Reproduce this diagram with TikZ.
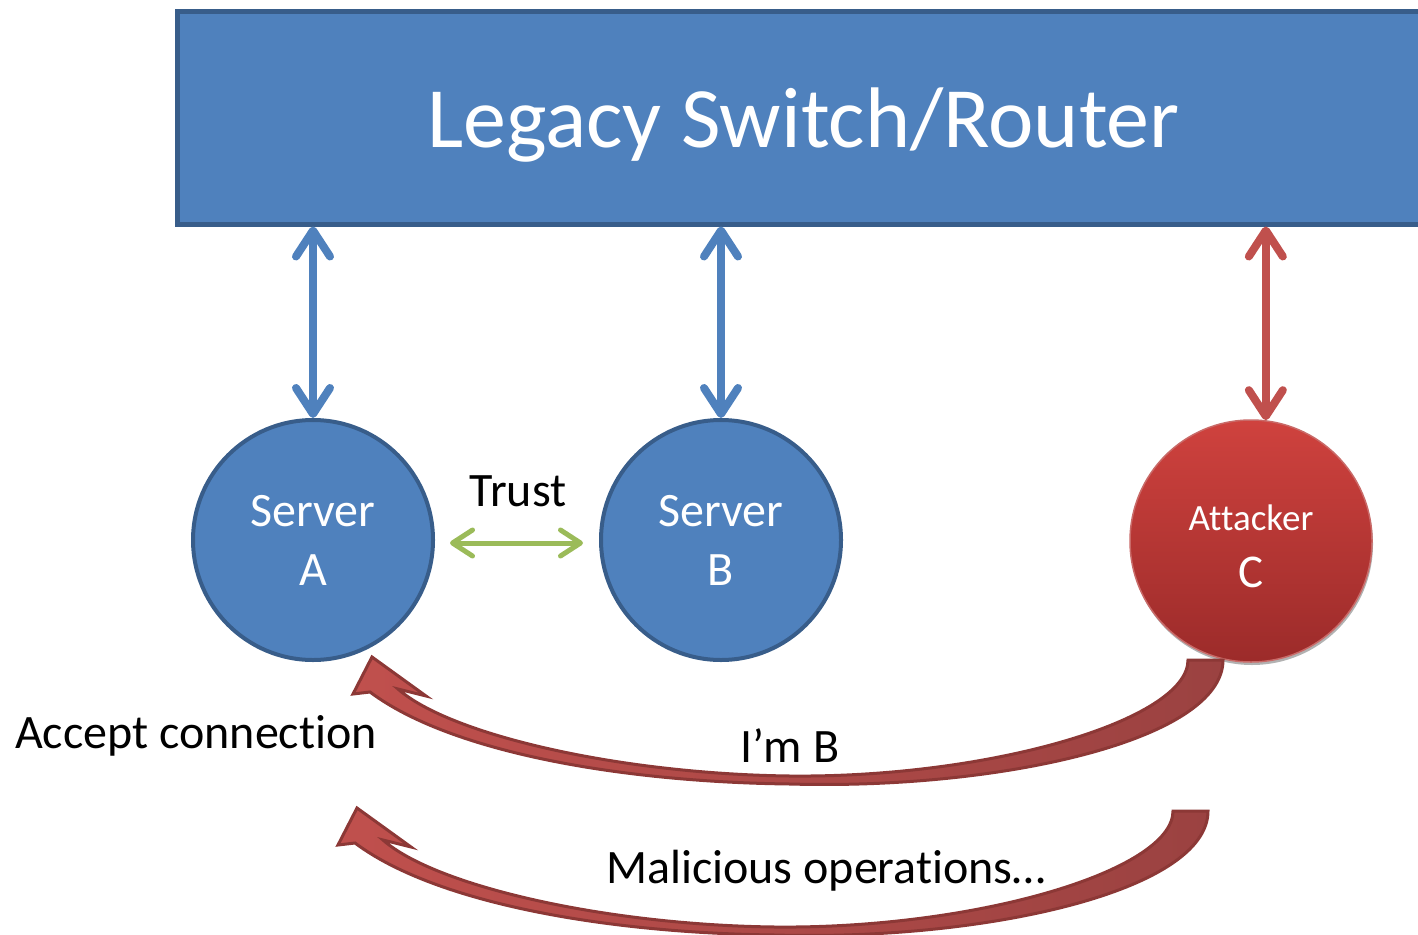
\documentclass[tikz,border=0pt]{standalone}
\usepackage{fontspec}
\setmainfont{Carlito}[Ligatures=NoCommon]
\usetikzlibrary{arrows.meta,calc}

\definecolor{boxblue}{HTML}{4F81BD}
\definecolor{boxedge}{HTML}{385D8A}
\definecolor{attred}{HTML}{C0504D}
\definecolor{attdark}{HTML}{8C3836}
\definecolor{bandtail}{HTML}{9B4241}
\definecolor{trustgreen}{HTML}{9BBB59}
\definecolor{redtop}{HTML}{CF423E}
\definecolor{redbot}{HTML}{9C2B2A}

\tikzset{
  router/.style={rectangle, minimum width=1253pt, minimum height=212pt,
    inner sep=0pt, text depth=0pt, fill=boxblue, draw=boxedge, line width=5pt,
    text=white, font=\fontsize{86}{100}\selectfont},
  hostnode/.style={circle, minimum size=240pt, inner sep=0pt, fill=boxblue,
    draw=boxedge, line width=4pt, text=white, align=center,
    font=\fontsize{48}{59}\selectfont},
  attnode/.style={circle, minimum size=242pt, inner sep=0pt,
    top color=redtop, bottom color=redbot, draw=attred!85!white,
    line width=1.5pt, text=white, align=center,
    font=\fontsize{47}{57}\selectfont},
  barb/.tip={Straight Barb[length=26pt,width=34pt,round]},
  smallbarb/.tip={Straight Barb[length=20pt,width=26pt,round]},
  link/.style={line width=8pt, barb-barb},
  trust/.style={line width=5pt, smallbarb-smallbarb, trustgreen},
  lbl/.style={anchor=base, inner sep=0pt, font=\fontsize{48}{56}\selectfont},
  band/.style={left color=attred, right color=bandtail, draw=attdark,
    line width=3pt, line join=miter},
  bentarrow/.pic={
    \path[band] (1188,660) -- (1223,660)
      .. controls (1223,740) and (1000,790) .. (790,784)
      .. controls (620,782) and (450,752) .. (370,692)
      -- (353,694) -- (372,657) -- (426,696) -- (398,689)
      .. controls (450,735) and (620,774) .. (790,776)
      .. controls (990,778) and (1188,720) .. (1188,660) -- cycle;
  }
}

\begin{document}
\begin{tikzpicture}[x=1pt,y=-1pt]
  \useasboundingbox (0,0) rectangle (1418,934);
  \clip (0,0) rectangle (1418,934);

  % legacy device across the top
  \node[router] (router) at (803.5,118) {Legacy Switch/Router};

  % hosts
  \node[hostnode] (a) at (313,540) {Server\\A};
  \node[hostnode] (b) at (721,540) {Server\\B};
  \fill[black!30] (1252,544) circle (121pt);
  \node[attnode] (c) at (1251,541)
    {{\fontsize{37}{44}\selectfont\rule{0pt}{36pt}Attacker}\\C};

  % links to the switch
  \draw[link, boxblue] (a.north |- router.south) -- (a.north);
  \draw[link, boxblue] (b.north |- router.south) -- (b.north);
  \draw[link, attred] (c.83 |- router.south) -- (c.83);

  % trust relation between the servers
  \draw[trust, shorten <=15pt, shorten >=16pt]
    ([yshift=-3pt]a.east) -- ([yshift=-3pt]b.west);
  \node[lbl] (trustlbl) at (518,506) {Trust};

  % spoofed traffic from the attacker
  \pic (spoof) at (0,0) {bentarrow};
  \pic (ops) at (-15,151) {bentarrow};

  \node[lbl] (accept) at (196,748) {Accept connection};
  \node[lbl] (imb) at (790,762) {I’m B};
  \node[lbl] (mal) at (826,883) {Malicious operations…};
\end{tikzpicture}
\end{document}
